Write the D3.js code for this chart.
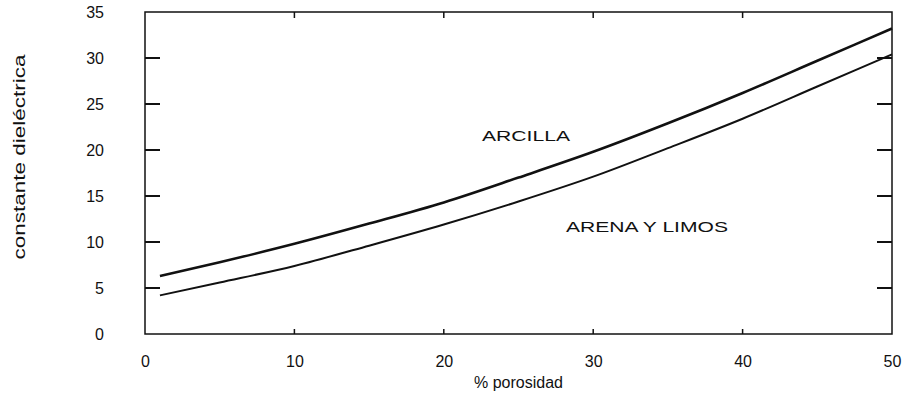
<html>
    <head>
        <style>
            body { margin: 0; background: #fff; }
            text { font-family: "Liberation Sans", Arial, sans-serif; fill: #111; }
            .line { fill: none; stroke: #111; }
        </style>
        <script src="https://d3js.org/d3.v7.min.js" charset="utf-8"></script>
    </head>
    <body>
        <div id="viz"></div>
        <script>
            // data
            const porosity   = [1, 5, 10, 15, 20, 25, 30, 35, 40, 45, 50];
            const arcilla    = [6.3, 7.8, 9.8, 12.0, 14.3, 17.0, 19.8, 22.9, 26.2, 29.7, 33.2];
            const arenaLimos = [4.2, 5.6, 7.4, 9.6, 11.9, 14.4, 17.1, 20.2, 23.4, 26.9, 30.4];
            const xTicks = [0, 10, 20, 30, 40, 50];
            const yTicks = [0, 5, 10, 15, 20, 25, 30, 35];

            let margin = { top: 12, right: 15, bottom: 71, left: 145 },
                width = 907, height = 405;
            let w = width - margin.left - margin.right,
                h = height - margin.top - margin.bottom;

            let svg = d3.select("#viz").append('svg').attr('width', width).attr('height', height)
                        .append('g').attr('transform', `translate(${margin.left}, ${margin.top})`);

            let x = d3.scaleLinear().domain([0, 50]).range([0, w]);
            let y = d3.scaleLinear().domain([0, 35]).range([h, 0]);

            // frame
            svg.append('rect').attr('x', 0).attr('y', 0).attr('width', w).attr('height', h)
                .style('fill', 'none').style('stroke', '#111').style('stroke-width', 1.5);

            // left axis: labels well outside, ticks drawn inward below
            let left = svg.append('g')
                .call(d3.axisLeft(y).tickValues(yTicks).tickSize(0).tickPadding(41));
            left.select('.domain').remove();
            left.selectAll('text').style('font-size', '16px').attr('font-family', null);

            svg.append('g').selectAll('line').data(yTicks.slice(1, -1)).join('line')
                .attr('x1', 0).attr('x2', 15).attr('y1', d => y(d)).attr('y2', d => y(d))
                .style('stroke', '#111').style('stroke-width', 2);
            svg.append('g').selectAll('line').data(yTicks.slice(1, -1)).join('line')
                .attr('x1', w - 15).attr('x2', w).attr('y1', d => y(d)).attr('y2', d => y(d))
                .style('stroke', '#111').style('stroke-width', 2);

            // bottom axis
            let bottom = svg.append('g').attr('transform', `translate(0, ${h})`)
                .call(d3.axisBottom(x).tickValues(xTicks).tickSize(0).tickPadding(22));
            bottom.select('.domain').remove();
            bottom.selectAll('text').style('font-size', '16px').attr('font-family', null);

            // tiny ticks on top and bottom
            let inner = xTicks.slice(1, -1);
            svg.append('g').selectAll('line').data(inner).join('line')
                .attr('x1', d => x(d)).attr('x2', d => x(d)).attr('y1', h).attr('y2', h - 5)
                .style('stroke', '#111').style('stroke-width', 1.5);
            svg.append('g').selectAll('line').data(inner).join('line')
                .attr('x1', d => x(d)).attr('x2', d => x(d)).attr('y1', 0).attr('y2', 6)
                .style('stroke', '#111').style('stroke-width', 1.5);

            // curves
            let line = d3.line().x(d => x(d[0])).y(d => y(d[1])).curve(d3.curveMonotoneX);
            svg.append('path').attr('class', 'line')
                .attr('d', line(porosity.map((p, i) => [p, arcilla[i]])))
                .style('stroke-width', 2.6);
            svg.append('path').attr('class', 'line')
                .attr('d', line(porosity.map((p, i) => [p, arenaLimos[i]])))
                .style('stroke-width', 2);

            // curve labels (wide lettering in the original)
            svg.append('text').text('ARCILLA')
                .attr('x', x(25.5)).attr('y', y(20.95))
                .attr('text-anchor', 'middle').style('font-size', '15px')
                .attr('textLength', 88).attr('lengthAdjust', 'spacingAndGlyphs');
            svg.append('text').text('ARENA Y LIMOS')
                .attr('x', x(33.6)).attr('y', y(11.1))
                .attr('text-anchor', 'middle').style('font-size', '15px')
                .attr('textLength', 162).attr('lengthAdjust', 'spacingAndGlyphs');

            // axis titles
            svg.append('text').text('% porosidad')
                .attr('x', w / 2).attr('y', h + 54)
                .attr('text-anchor', 'middle').style('font-size', '16px');
            svg.append('text').text('constante dieléctrica')
                .attr('transform', `translate(${19 - margin.left}, 145) rotate(-90)`)
                .attr('dy', '0.35em')
                .attr('text-anchor', 'middle').style('font-size', '16px')
                .attr('textLength', 205).attr('lengthAdjust', 'spacingAndGlyphs');
        </script>
    </body>
</html>
